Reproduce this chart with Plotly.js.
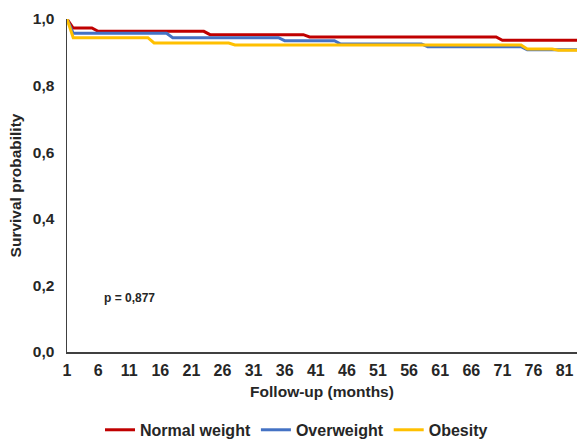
<!DOCTYPE html>
<html>
<head>
<meta charset="utf-8">
<script src="https://cdn.plot.ly/plotly-3.0.1.min.js"></script>
<style>html,body{margin:0;padding:0;background:#fff;}#chart{width:577px;height:443px;}</style>
</head>
<body>
<div id="chart"></div>
<script>
// Follow-up months where the curves change (linear between consecutive months, as in a category line chart)
const normalMonths = [1, 2, 5, 6, 23, 24, 39, 40, 70, 71, 83];
const normalSurv   = [1.0, 0.973, 0.973, 0.963, 0.963, 0.953, 0.953, 0.946, 0.946, 0.936, 0.936];

const overMonths = [1, 2, 17, 18, 35, 36, 44, 45, 58, 59, 74, 75, 83];
const overSurv   = [1.0, 0.957, 0.957, 0.944, 0.944, 0.935, 0.935, 0.925, 0.925, 0.917, 0.917, 0.908, 0.908];

const obeseMonths = [1, 2, 14, 15, 27, 28, 74, 75, 79, 80, 83];
const obeseSurv   = [1.0, 0.944, 0.944, 0.928, 0.928, 0.922, 0.922, 0.910, 0.910, 0.906, 0.906];

const xTicks = [1, 6, 11, 16, 21, 26, 31, 36, 41, 46, 51, 56, 61, 66, 71, 76, 81];
const yTicks = [0, 0.2, 0.4, 0.6, 0.8, 1.0];
const seriesNames = ["Normal weight", "Overweight", "Obesity"];
const pText = "p = 0,877";

const font = "Liberation Sans, Arial, sans-serif";
const txt = "#262626";
const colors = ["#C00000", "#4472C4", "#FFC000"];

const traces = [
  {x: normalMonths, y: normalSurv, name: seriesNames[0]},
  {x: overMonths, y: overSurv, name: seriesNames[1]},
  {x: obeseMonths, y: obeseSurv, name: seriesNames[2]}
].map((t, i) => Object.assign(t, {
  type: "scatter", mode: "lines", cliponaxis: false,
  line: {color: colors[i], width: 3}
}));

const layout = {
  width: 577, height: 443,
  margin: {l: 67, r: 0, t: 19, b: 91},
  paper_bgcolor: "#fff", plot_bgcolor: "#fff",
  separators: ",.",
  font: {family: font, color: txt},
  showlegend: true,
  legend: {
    orientation: "h", x: 0.45, xanchor: "center", xref: "paper",
    y: 0.068, yanchor: "top", yref: "container",
    font: {family: font, size: 16, color: txt, weight: "bold"},
    itemwidth: 30, tracegroupgap: 0
  },
  xaxis: {
    range: [1, 83], tickmode: "array", tickvals: xTicks, ticktext: xTicks.map(String),
    showgrid: false, zeroline: false, showline: true, linecolor: "#404040", linewidth: 1.5,
    ticks: "", ticklabelstandoff: 3, automargin: false,
    tickfont: {family: font, size: 16, color: txt, weight: "bold"},
    title: {text: "Follow-up (months)", font: {family: font, size: 15.5, color: txt, weight: "bold"}, standoff: 8}
  },
  yaxis: {
    range: [0, 1], tickmode: "array", tickvals: yTicks, tickformat: ".1f",
    showgrid: false, zeroline: false, showline: true, linecolor: "#404040", linewidth: 1.5,
    ticks: "", ticklabelstandoff: 8, automargin: false,
    tickfont: {family: font, size: 15.5, color: txt, weight: "bold"},
    title: {text: "Survival probability", font: {family: font, size: 15.5, color: txt, weight: "bold"}, standoff: 7}
  },
  annotations: [{
    x: 11, y: 0.162, xref: "x", yref: "y", text: pText, showarrow: false,
    font: {family: font, size: 12, color: txt, weight: "bold"}
  }]
};

Plotly.newPlot("chart", traces, layout, {displayModeBar: false, staticPlot: true});
</script>
</body>
</html>
